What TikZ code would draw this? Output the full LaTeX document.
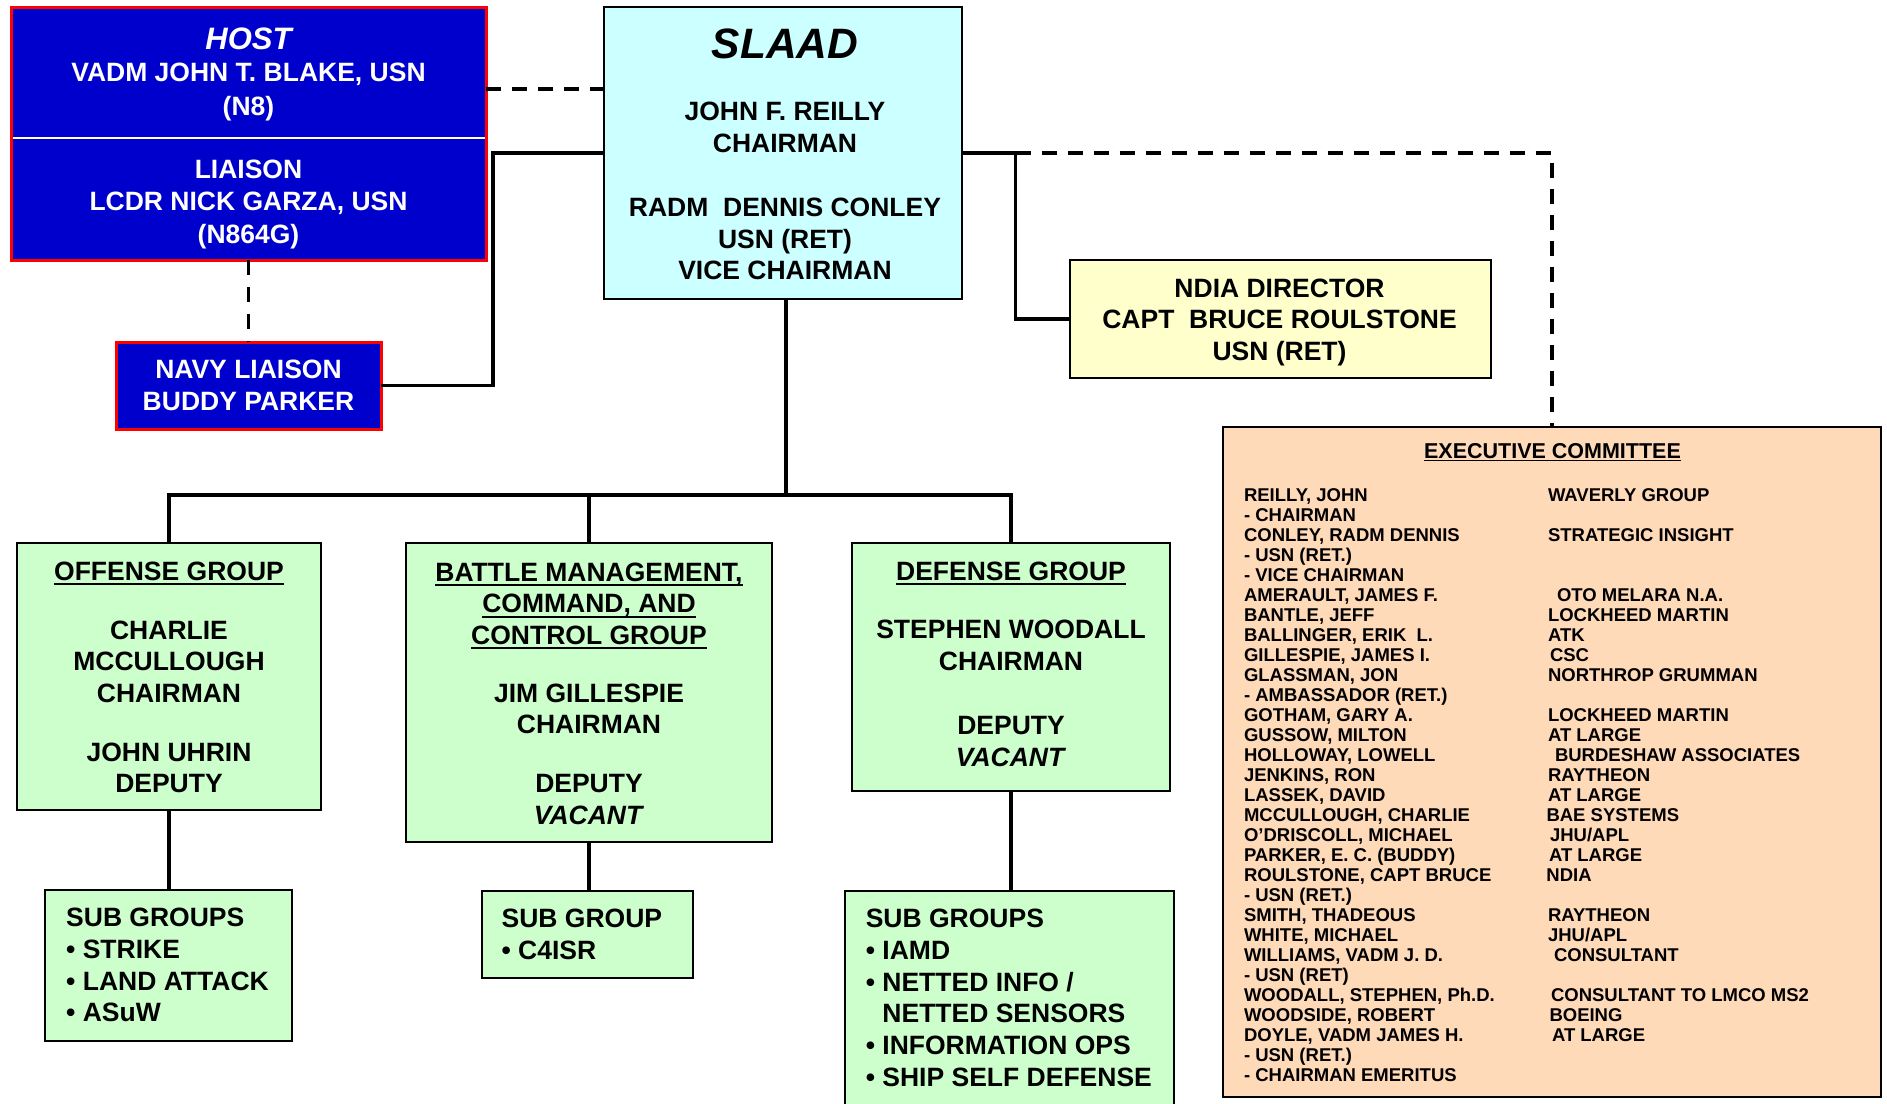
\documentclass[tikz,border=0pt]{standalone}
\usepackage{fontspec}
\setmainfont{Liberation Sans}
\newcommand\setfs[2]{\fontsize{#1}{#2}\selectfont}
\newsavebox\ulbox
\newcommand\myul[3]{\sbox\ulbox{#3}\rlap{\rule[#1]{\wd\ulbox}{#2}}\usebox\ulbox}
\newcommand\gul[1]{\myul{-5pt}{2pt}{#1}}
\definecolor{hostblue}{HTML}{0000CC}
\definecolor{hostred}{HTML}{FF0000}
\definecolor{slaadcyan}{HTML}{CCFFFF}
\definecolor{ndiayellow}{HTML}{FFFFCC}
\definecolor{groupgreen}{HTML}{CCFFCC}
\definecolor{execpeach}{HTML}{FFDAB9}
\begin{document}
\begin{tikzpicture}[x=1pt,y=-1pt,line join=miter,
  box/.style={draw=black,line width=2.5pt,inner sep=0pt,outer sep=0pt},
  redbox/.style={fill=hostblue,draw=hostred,line width=3pt,inner sep=0pt,outer sep=0pt},
  txt/.style={inner sep=0pt,outer sep=0pt,font=\bfseries\setfs{26.5}{31.7},align=center,anchor=north},
  ltxt/.style={txt,align=left,anchor=north west},
  conn/.style={line width=3.3pt},
  dconn/.style={line width=3.6pt,dash pattern=on 15pt off 11pt}]
\useasboundingbox (0,0) rectangle (1887,1103);
\fill[white] (0,0) rectangle (1887,1103);
\clip (0,0) rectangle (1887,1103);

% ---------- boxes ----------
\node[box,fill=hostblue,draw=none,minimum width=475pt,minimum height=131pt] (host) at (248.5,72.5) {};
\node[box,fill=hostblue,draw=none,minimum width=475pt,minimum height=121pt] (liaison) at (248.5,199.5) {};
\draw[hostred,line width=3pt] (host.north west) rectangle (liaison.south east);
\draw[white,line width=2.5pt] ([xshift=1.5pt]host.south west) -- ([xshift=-1.5pt]host.south east);
\node[redbox,minimum width=265pt,minimum height=87pt] (navy) at (248.5,385.5) {};
\node[box,fill=slaadcyan,minimum width=358pt,minimum height=292pt] (slaad) at (783,153) {};
\node[box,fill=ndiayellow,minimum width=421pt,minimum height=118pt] (ndia) at (1280.5,319) {};
\node[box,fill=execpeach,minimum width=658pt,minimum height=670pt] (exec) at (1552,762) {};
\node[box,fill=groupgreen,minimum width=304pt,minimum height=267pt] (offense) at (169,676.5) {};
\node[box,fill=groupgreen,minimum width=366pt,minimum height=299pt] (bmc) at (589,692.5) {};
\node[box,fill=groupgreen,minimum width=318pt,minimum height=248pt] (defense) at (1011,667) {};
\node[box,fill=groupgreen,minimum width=247pt,minimum height=151pt] (offsub) at (168.5,965.5) {};
\node[box,fill=groupgreen,minimum width=211pt,minimum height=87pt] (bmcsub) at (587.5,934.5) {};
\node[box,fill=groupgreen,minimum width=329pt,minimum height=239pt] (defsub) at (1009.5,1010.5) {};

% ---------- connectors ----------
\draw[dconn] ([yshift=-16.5pt]host.east) -- ([yshift=-16.5pt]host.east -| slaad.west);
\draw[dconn,dash pattern=on 15pt off 12pt,line width=3.3pt] (liaison.south) -- (navy.north);
\coordinate (jL) at (493,153);
\draw[conn] (navy.east) -| (jL) -- (jL -| slaad.west);
\coordinate (jR) at (1015.5,153);
\draw[conn] (jR -| slaad.east) -- (jR) |- (ndia.west);
\draw[dconn] (jR) -| (exec.north);
\coordinate (bus) at (786,495);
\draw[conn] (slaad.south -| bus) -- (bus);
\draw[conn] (offense.north) |- (bus) -| (defense.north);
\draw[conn] (bmc.north) -- (bmc.north |- bus);
\draw[conn] (offense.south) -- (offense.south |- offsub.north);
\draw[conn] (bmc.south) -- (bmc.south |- bmcsub.north);
\draw[conn] (defense.south) -- (defense.south |- defsub.north);

% ---------- texts ----------
\node[txt,text=white,font=\bfseries\setfs{26.5}{34}] (t-host) at (248.5,27.9)
  {{\setfs{31}{34}\itshape HOST}\\[-1.6pt]VADM JOHN T. BLAKE, USN\\(N8)};
\node[txt,text=white,font=\bfseries\setfs{26.5}{32.5}] (t-liaison) at (248.5,159.8)
  {LIAISON\\LCDR NICK GARZA, USN\\(N864G)};
\node[txt,text=white] (t-navy) at (248.5,359.8) {NAVY LIAISON\\BUDDY PARKER};
\node[txt,font=\bfseries\setfs{26.5}{31.8}] (t-slaad) at (785,28.5)
  {{\setfs{42.5}{31.8}\itshape SLAAD}\\[30.5pt]JOHN F. REILLY\\CHAIRMAN\\[32.2pt]RADM\ \ DENNIS CONLEY\\USN (RET)\\VICE CHAIRMAN};
\node[txt,font=\bfseries\setfs{26.5}{31.5}] (t-ndia) at (1279.5,278.8)
  {NDIA DIRECTOR\\CAPT\ \ BRUCE ROULSTONE\\USN (RET)};
\node[txt] (t-off) at (169,561.8)
  {\gul{OFFENSE GROUP}\\[27pt]CHARLIE\\MCCULLOUGH\\CHAIRMAN\\[27pt]JOHN UHRIN\\DEPUTY};
\node[txt] (t-bmc) at (589,562.5)
  {\gul{BATTLE MANAGEMENT,}\\\gul{COMMAND, AND}\\\gul{CONTROL GROUP}\\[26pt]JIM GILLESPIE\\CHAIRMAN\\[27pt]DEPUTY\\\textit{VACANT}};
\node[txt] (t-def) at (1011,561.8)
  {\gul{DEFENSE GROUP}\\[26.5pt]STEPHEN WOODALL\\CHAIRMAN\\[32.5pt]DEPUTY\\\textit{VACANT}};
\node[ltxt] (t-offsub) at (66.2,908.3) {SUB GROUPS\\• STRIKE\\• LAND ATTACK\\• ASuW};
\node[ltxt] (t-bmcsub) at (501.6,909.1) {SUB GROUP\\• C4ISR};
\node[ltxt] (t-defsub) at (865.8,909.1)
  {SUB GROUPS\\• IAMD\\• NETTED INFO /\\\phantom{• }NETTED SENSORS\\• INFORMATION OPS\\• SHIP SELF DEFENSE};
\node[txt,font=\bfseries\setfs{21.5}{24}] (t-exec-title) at (1552.5,443)
  {\myul{-3.2pt}{1.7pt}{EXECUTIVE COMMITTEE}};
\node[anchor=north west,inner sep=0pt,outer sep=0pt,font=\bfseries\setfs{18.5}{20}] (t-exec-body) at (1244,487.2)
{\begin{tabular}{@{}p{304pt}@{}l@{}}
REILLY, JOHN & WAVERLY GROUP\\
- CHAIRMAN & \\
CONLEY, RADM DENNIS & STRATEGIC INSIGHT\\
- USN (RET.) & \\
- VICE CHAIRMAN & \\
AMERAULT, JAMES F. & \hspace{9pt}OTO MELARA N.A.\\
BANTLE, JEFF & LOCKHEED MARTIN\\
BALLINGER, ERIK\ \ L. & ATK\\
GILLESPIE, JAMES I. & \hspace{2pt}CSC\\
GLASSMAN, JON & NORTHROP GRUMMAN\\
- AMBASSADOR (RET.) & \\
GOTHAM, GARY A. & LOCKHEED MARTIN\\
GUSSOW, MILTON & AT LARGE\\
HOLLOWAY, LOWELL & \hspace{7pt}BURDESHAW ASSOCIATES\\
JENKINS, RON & RAYTHEON\\
LASSEK, DAVID & AT LARGE\\
MCCULLOUGH, CHARLIE & \hspace{-1.5pt}BAE SYSTEMS\\
O’DRISCOLL, MICHAEL & \hspace{2pt}JHU/APL\\
PARKER, E. C. (BUDDY) & \hspace{1pt}AT LARGE\\
ROULSTONE, CAPT BRUCE & \hspace{-1.5pt}NDIA\\
- USN (RET.) & \\
SMITH, THADEOUS & RAYTHEON\\
WHITE, MICHAEL & JHU/APL\\
WILLIAMS, VADM J. D. & \hspace{6pt}CONSULTANT\\
- USN (RET) & \\
WOODALL, STEPHEN, Ph.D. & \hspace{3pt}CONSULTANT TO LMCO MS2\\
WOODSIDE, ROBERT & \hspace{1.5pt}BOEING\\
DOYLE, VADM JAMES H. & \hspace{4pt}AT LARGE\\
- USN (RET.) & \\
- CHAIRMAN EMERITUS &
\end{tabular}};
\end{tikzpicture}
\end{document}
